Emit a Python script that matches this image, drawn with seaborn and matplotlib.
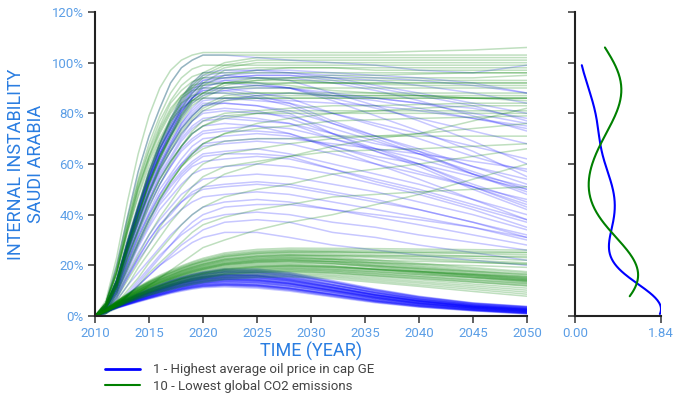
import numpy as np
import pandas as pd
import matplotlib
matplotlib.use("Agg")
import matplotlib.pyplot as plt
import seaborn as sns
from matplotlib.ticker import FuncFormatter, FormatStrFormatter
from matplotlib.lines import Line2D

# ---------------- data (values in percent) ----------------
YEARS = [2010, 2011, 2012, 2013, 2014, 2015, 2016, 2017, 2018, 2019,
         2020, 2022, 2025, 2028, 2032, 2036, 2040, 2045, 2050]

BLUE_HIGH = [
    [0, 5, 20, 39, 57, 71, 82, 92, 98, 101, 103, 103, 102, 101, 100, 99, 97, 96, 99],
    [0, 4, 14, 29, 43, 57, 68, 77, 85, 91, 95, 96, 97, 97, 96, 95, 94, 92, 88],
    [0, 4, 14, 29, 43, 55, 66, 75, 83, 89, 93, 95, 96, 96, 94, 91, 88, 84, 80],
    [0, 4, 14, 28, 42, 55, 66, 74, 82, 88, 92, 94, 95, 95, 93, 90, 87, 83, 77],
    [0, 4, 13, 28, 41, 54, 64, 73, 81, 86, 90, 93, 94, 94, 92, 89, 85, 79, 73],
    [0, 4, 14, 28, 42, 54, 65, 74, 81, 87, 91, 92, 91, 90, 86, 82, 78, 73, 68],
    [0, 4, 13, 28, 41, 54, 64, 73, 81, 86, 90, 90, 88, 86, 80, 75, 70, 63, 57],
    [0, 4, 13, 28, 41, 53, 64, 72, 80, 86, 89, 89, 87, 84, 77, 71, 66, 59, 52],
    [0, 4, 13, 26, 39, 51, 61, 69, 76, 82, 86, 86, 85, 84, 80, 76, 72, 67, 62],
    [0, 4, 13, 26, 39, 50, 60, 68, 76, 81, 85, 86, 86, 85, 84, 83, 81, 78, 75],
    [0, 4, 12, 26, 38, 49, 59, 67, 74, 79, 83, 84, 83, 81, 76, 71, 65, 56, 48],
    [0, 3, 12, 25, 37, 48, 58, 65, 72, 77, 81, 82, 81, 78, 72, 65, 59, 50, 42],
    [0, 3, 12, 24, 36, 46, 56, 63, 70, 75, 78, 79, 78, 76, 70, 65, 60, 52, 45],
    [0, 3, 11, 23, 34, 45, 54, 61, 67, 72, 75, 76, 75, 72, 66, 60, 54, 46, 38],
    [0, 3, 11, 22, 33, 43, 52, 59, 65, 69, 72, 73, 73, 72, 67, 62, 57, 51, 44],
    [0, 3, 10, 21, 32, 41, 50, 56, 62, 67, 70, 71, 72, 71, 67, 63, 60, 55, 50],
    [0, 3, 10, 21, 31, 40, 48, 54, 60, 64, 67, 68, 69, 68, 64, 60, 56, 51, 46],
    [0, 3, 10, 20, 29, 38, 46, 52, 57, 61, 64, 65, 66, 64, 60, 56, 52, 46, 40],
    [0, 3, 9, 19, 28, 36, 44, 49, 55, 59, 61, 62, 63, 62, 58, 54, 50, 44, 38],
    [0, 2, 9, 18, 27, 35, 42, 47, 52, 56, 58, 59, 60, 59, 56, 52, 48, 42, 35],
    [0, 2, 8, 17, 25, 32, 38, 43, 48, 51, 54, 55, 56, 55, 52, 49, 45, 40, 34],
    [0, 2, 8, 16, 23, 30, 36, 41, 45, 49, 51, 52, 53, 52, 49, 46, 42, 37, 31],
    [0, 2, 7, 15, 22, 28, 34, 38, 42, 45, 47, 48, 49, 48, 45, 42, 39, 35, 30],
    [0, 1, 4, 8, 13, 18, 23, 28, 33, 37, 40, 43, 44, 44, 42, 40, 38, 35, 31],
    [0, 1, 4, 8, 12, 16, 20, 23, 26, 29, 31, 33, 33, 31, 28, 26, 24, 22, 20],
    [0, 4, 12, 26, 38, 49, 59, 67, 74, 79, 83, 85, 87, 88, 87, 86, 84, 82, 78],
    [0, 4, 13, 27, 40, 52, 62, 71, 78, 84, 87, 89, 90, 90, 88, 86, 84, 80, 76],
    [0, 4, 14, 29, 43, 56, 67, 76, 84, 90, 94, 95, 94, 93, 88, 83, 77, 69, 60],
    [0, 4, 14, 28, 42, 55, 66, 74, 82, 88, 92, 93, 92, 90, 85, 79, 73, 65, 55],
    [0, 3, 12, 25, 37, 48, 57, 65, 71, 77, 80, 81, 80, 79, 74, 69, 64, 57, 50],
    [0, 3, 11, 24, 35, 46, 55, 62, 69, 74, 77, 78, 77, 76, 72, 68, 65, 59, 54],
    [0, 3, 10, 21, 31, 40, 48, 55, 60, 65, 68, 69, 70, 70, 68, 66, 64, 61, 58],
    [0, 3, 9, 19, 29, 38, 45, 51, 56, 60, 63, 64, 64, 63, 58, 53, 49, 43, 37],
    [0, 4, 12, 26, 38, 50, 60, 68, 75, 80, 84, 84, 83, 80, 72, 66, 60, 51, 43],
    [0, 4, 13, 27, 40, 53, 63, 71, 79, 85, 88, 88, 86, 83, 76, 70, 64, 56, 49],
    [0, 2, 7, 15, 23, 30, 36, 40, 45, 48, 50, 51, 52, 51, 48, 45, 42, 37, 32],
    [0, 4, 13, 28, 41, 53, 64, 72, 80, 86, 89, 90, 91, 90, 87, 85, 82, 78, 74],
    [0, 4, 14, 30, 44, 57, 68, 78, 86, 92, 96, 97, 97, 96, 95, 94, 93, 91, 88],
    [0, 4, 14, 29, 43, 55, 66, 75, 83, 89, 93, 94, 95, 95, 94, 93, 91, 88, 84],
    [0, 3, 11, 23, 34, 44, 52, 59, 66, 70, 73, 74, 75, 74, 70, 66, 62, 56, 51],
    [0, 1, 4, 8, 12, 16, 20, 24, 28, 31, 34, 37, 38, 37, 33, 31, 28, 25, 22],
    [0, 1, 4, 9, 14, 19, 24, 28, 32, 35, 38, 40, 41, 40, 37, 35, 32, 29, 26],
    [0, 2, 6, 12, 17, 22, 27, 32, 36, 40, 43, 45, 46, 45, 42, 39, 36, 32, 28],
]

BLUE_LOW = [
    [0, 2.5, 5.0, 7.0, 9.0, 10.8, 12.5, 14.1, 15.5, 16.6, 17.5, 18.7, 18.6, 17.2, 14.0, 10.6, 7.8, 5.2, 3.8],
    [0, 2.5, 4.9, 6.9, 8.8, 10.6, 12.3, 13.8, 15.2, 16.3, 17.2, 18.3, 18.2, 16.9, 13.7, 10.4, 7.6, 5.1, 3.7],
    [0, 2.4, 4.8, 6.7, 8.7, 10.4, 12.0, 13.6, 14.9, 16.0, 16.9, 18.0, 17.8, 16.5, 13.4, 10.1, 7.4, 4.9, 3.5],
    [0, 2.4, 4.7, 6.6, 8.5, 10.2, 11.8, 13.4, 14.7, 15.7, 16.6, 17.6, 17.5, 16.1, 13.1, 9.8, 7.2, 4.8, 3.4],
    [0, 2.3, 4.6, 6.5, 8.3, 10.0, 11.6, 13.1, 14.4, 15.4, 16.2, 17.3, 17.1, 15.7, 12.7, 9.5, 6.9, 4.6, 3.2],
    [0, 2.3, 4.5, 6.4, 8.2, 9.8, 11.4, 12.8, 14.1, 15.1, 15.9, 16.9, 16.7, 15.4, 12.4, 9.3, 6.7, 4.4, 3.0],
    [0, 2.2, 4.4, 6.2, 8.0, 9.6, 11.1, 12.5, 13.8, 14.8, 15.6, 16.5, 16.3, 15.0, 12.1, 9.0, 6.5, 4.2, 2.9],
    [0, 2.2, 4.3, 6.1, 7.8, 9.4, 10.9, 12.3, 13.5, 14.5, 15.3, 16.2, 16.0, 14.6, 11.8, 8.7, 6.3, 4.1, 2.8],
    [0, 2.1, 4.2, 5.9, 7.6, 9.2, 10.6, 12.0, 13.2, 14.2, 15.0, 15.8, 15.6, 14.2, 11.4, 8.4, 6.1, 3.9, 2.6],
    [0, 2.1, 4.1, 5.8, 7.5, 9.0, 10.4, 11.8, 13.0, 13.9, 14.7, 15.5, 15.2, 13.9, 11.1, 8.2, 5.9, 3.8, 2.5],
    [0, 2.0, 4.0, 5.7, 7.3, 8.8, 10.2, 11.5, 12.7, 13.6, 14.4, 15.1, 14.8, 13.5, 10.8, 7.9, 5.7, 3.6, 2.3],
    [0, 2.0, 3.9, 5.6, 7.1, 8.6, 10.0, 11.3, 12.4, 13.3, 14.1, 14.8, 14.4, 13.2, 10.5, 7.7, 5.5, 3.5, 2.2],
    [0, 1.9, 3.8, 5.4, 6.9, 8.3, 9.7, 11.0, 12.1, 13.0, 13.7, 14.4, 14.0, 12.8, 10.1, 7.4, 5.2, 3.3, 2.0],
    [0, 1.9, 3.7, 5.3, 6.8, 8.1, 9.5, 10.8, 11.8, 12.7, 13.4, 14.1, 13.7, 12.4, 9.8, 7.1, 5.0, 3.2, 1.9],
    [0, 1.8, 3.6, 5.1, 6.6, 7.9, 9.2, 10.5, 11.5, 12.4, 13.1, 13.7, 13.3, 12.0, 9.5, 6.8, 4.8, 3.0, 1.7],
    [0, 1.8, 3.5, 5.0, 6.4, 7.7, 9.0, 10.2, 11.2, 12.1, 12.8, 13.3, 12.9, 11.7, 9.2, 6.6, 4.6, 2.8, 1.6],
    [0, 1.7, 3.4, 4.8, 6.2, 7.5, 8.7, 9.9, 10.9, 11.8, 12.5, 12.9, 12.5, 11.3, 8.8, 6.3, 4.4, 2.6, 1.4],
    [0, 1.7, 3.3, 4.7, 6.1, 7.3, 8.5, 9.7, 10.7, 11.5, 12.2, 12.6, 12.2, 10.9, 8.5, 6.0, 4.2, 2.5, 1.3],
    [0, 1.6, 3.2, 4.6, 5.9, 7.1, 8.3, 9.4, 10.4, 11.2, 11.8, 12.2, 11.8, 10.5, 8.2, 5.7, 3.9, 2.3, 1.1],
    [0, 1.6, 3.1, 4.4, 5.7, 6.9, 8.0, 9.2, 10.1, 10.9, 11.5, 11.9, 11.4, 10.2, 7.8, 5.5, 3.7, 2.2, 1.0],
    [0, 1.5, 3.0, 4.3, 5.5, 6.7, 7.8, 8.9, 9.8, 10.6, 11.2, 11.5, 11.0, 9.8, 7.5, 5.2, 3.5, 2.0, 0.8],
    [0, 2.1, 4.2, 5.9, 7.6, 9.2, 10.6, 12.0, 13.2, 14.2, 15.0, 15.9, 15.9, 14.8, 12.2, 9.3, 6.8, 4.4, 2.9],
    [0, 2.0, 4.0, 5.7, 7.3, 8.8, 10.2, 11.5, 12.7, 13.6, 14.3, 14.9, 14.4, 12.9, 10.0, 7.1, 4.9, 3.0, 1.8],
    [0, 1.8, 3.6, 5.1, 6.6, 7.9, 9.2, 10.5, 11.5, 12.4, 13.1, 13.8, 13.5, 12.4, 10.0, 7.3, 5.2, 3.3, 2.0],
    [0, 2.2, 4.4, 6.2, 8.0, 9.6, 11.1, 12.5, 13.8, 14.8, 15.6, 16.4, 16.0, 14.5, 11.4, 8.3, 5.9, 3.7, 2.4],
    [0, 1.9, 3.8, 5.4, 6.9, 8.3, 9.7, 11.0, 12.1, 13.0, 13.8, 14.5, 14.2, 13.0, 10.4, 7.6, 5.4, 3.4, 2.1],
    [0, 1.7, 3.4, 4.8, 6.2, 7.5, 8.7, 9.9, 10.9, 11.7, 12.3, 12.7, 12.2, 10.9, 8.3, 5.8, 3.9, 2.3, 1.1],
    [0, 2.4, 4.7, 6.6, 8.5, 10.2, 11.8, 13.4, 14.7, 15.7, 16.5, 17.4, 17.1, 15.6, 12.4, 9.1, 6.5, 4.2, 2.8],
    [0, 2.1, 4.1, 5.8, 7.5, 9.0, 10.4, 11.8, 13.0, 13.9, 14.7, 15.4, 15.1, 13.8, 11.0, 8.1, 5.8, 3.7, 2.4],
    [0, 1.6, 3.2, 4.6, 5.9, 7.1, 8.3, 9.4, 10.4, 11.2, 11.8, 12.3, 12.0, 10.9, 8.6, 6.1, 4.2, 2.6, 1.4],
    [0, 2.4, 4.9, 6.9, 8.8, 10.6, 12.2, 13.8, 15.1, 16.2, 17.1, 18.1, 17.9, 16.5, 13.3, 9.9, 7.1, 4.6, 3.3],
    [0, 2.3, 4.6, 6.5, 8.3, 10.0, 11.6, 13.1, 14.4, 15.4, 16.3, 17.4, 17.3, 16.1, 13.3, 10.2, 7.5, 5.0, 3.6],
    [0, 2.2, 4.4, 6.2, 8.0, 9.6, 11.1, 12.6, 13.8, 14.8, 15.6, 16.6, 16.4, 15.1, 12.2, 9.1, 6.6, 4.3, 3.0],
    [0, 2.1, 4.2, 6.0, 7.7, 9.2, 10.7, 12.1, 13.3, 14.3, 15.1, 15.9, 15.6, 14.2, 11.3, 8.3, 5.9, 3.8, 2.5],
    [0, 2.0, 4.0, 5.7, 7.3, 8.8, 10.2, 11.6, 12.7, 13.7, 14.4, 15.2, 14.9, 13.6, 10.9, 8.0, 5.8, 3.7, 2.4],
    [0, 2.0, 3.9, 5.5, 7.1, 8.5, 9.9, 11.2, 12.3, 13.2, 14.0, 14.7, 14.3, 13.0, 10.3, 7.5, 5.3, 3.3, 2.0],
    [0, 1.9, 3.8, 5.4, 6.9, 8.3, 9.7, 11.0, 12.1, 13.0, 13.7, 14.3, 13.9, 12.6, 9.9, 7.1, 4.9, 3.0, 1.7],
    [0, 1.9, 3.7, 5.3, 6.8, 8.2, 9.5, 10.8, 11.9, 12.8, 13.5, 14.2, 13.9, 12.7, 10.1, 7.3, 5.1, 3.2, 1.9],
    [0, 1.8, 3.6, 5.1, 6.6, 7.9, 9.2, 10.5, 11.5, 12.4, 13.1, 13.6, 13.2, 11.9, 9.3, 6.6, 4.6, 2.8, 1.5],
    [0, 1.8, 3.5, 5.0, 6.4, 7.7, 9.0, 10.2, 11.3, 12.1, 12.8, 13.4, 13.0, 11.8, 9.4, 6.8, 4.8, 3.0, 1.7],
    [0, 1.7, 3.4, 4.8, 6.2, 7.5, 8.7, 9.9, 10.9, 11.8, 12.4, 12.9, 12.4, 11.1, 8.6, 6.1, 4.2, 2.5, 1.2],
    [0, 1.7, 3.3, 4.7, 6.0, 7.2, 8.4, 9.6, 10.6, 11.4, 12.0, 12.4, 12.0, 10.8, 8.4, 5.9, 4.1, 2.4, 1.2],
    [0, 1.6, 3.2, 4.5, 5.8, 7.0, 8.2, 9.3, 10.3, 11.1, 11.7, 12.1, 11.6, 10.3, 7.9, 5.5, 3.7, 2.1, 0.9],
    [0, 2.1, 4.1, 5.8, 7.4, 8.9, 10.3, 11.7, 12.9, 13.8, 14.6, 15.4, 15.2, 14.0, 11.3, 8.4, 6.1, 3.9, 2.6],
    [0, 2.2, 4.3, 6.1, 7.8, 9.4, 10.9, 12.3, 13.5, 14.5, 15.3, 16.1, 15.8, 14.4, 11.5, 8.4, 6.0, 3.8, 2.5],
]

GREEN_HIGH = [
    [0, 6, 23, 45, 64, 79, 90, 97, 101, 103, 104, 104, 104, 104, 104, 104, 104.5, 105, 106],
    [0, 5, 20, 39, 57, 71, 82, 92, 98, 101, 103, 103, 103, 103, 103, 103, 103, 103, 103],
    [0, 4, 14, 30, 44, 57, 68, 78, 86, 92, 96, 100, 102, 102, 102, 102, 102, 102, 102],
    [0, 4, 14, 29, 43, 57, 68, 77, 85, 91, 95, 99, 101, 101, 101, 101, 101, 101, 101],
    [0, 4, 14, 29, 43, 56, 67, 76, 84, 90, 94, 98, 100, 100, 100, 100, 100, 100, 100],
    [0, 5, 19, 38, 54, 68, 79, 88, 94, 97.5, 99, 99, 99, 99, 99, 99, 99, 99, 99],
    [0, 4, 14, 28, 42, 55, 66, 74, 82, 88, 92, 97, 98, 98, 98, 98, 98, 98, 98],
    [0, 3, 12, 26, 39, 52, 63, 72, 80, 86, 91, 95, 97, 98, 98, 97, 97, 97, 97],
    [0, 5, 18, 36, 53, 66, 77, 85, 91, 94.5, 96, 96, 96, 96, 96, 96, 96, 96, 96],
    [0, 4, 13, 27, 40, 53, 63, 71, 79, 85, 88, 92, 94, 94, 94, 94, 94, 94, 95],
    [0, 4, 13, 27, 40, 52, 62, 71, 78, 84, 87, 91, 93, 93, 93, 93, 93, 93, 93],
    [0, 5, 17, 35, 51, 63, 74, 82, 87, 91, 92, 92, 92, 92, 92, 92, 92, 92, 92],
    [0, 5, 17, 34, 50, 62, 72, 80, 86, 89, 90, 90, 90, 90, 90, 90, 90, 90, 90],
    [0, 4, 12, 26, 38, 49, 59, 67, 74, 79, 83, 87, 88, 88, 88, 88, 88, 88, 88],
    [0, 4, 17, 33, 48, 61, 70, 78, 84, 87, 88, 88, 88, 88, 87, 87, 87, 87, 87],
    [0, 3, 12, 25, 37, 49, 58, 66, 73, 78, 82, 86, 87, 87, 87, 87, 87, 86, 86],
    [0, 4, 16, 33, 47, 59, 69, 77, 82, 85, 86, 86, 86, 86, 86, 86, 86, 86, 86],
    [0, 3, 12, 25, 37, 48, 58, 65, 72, 77, 81, 85, 86, 86, 86, 86, 86, 86, 86],
    [0, 3, 11, 22, 33, 43, 52, 60, 67, 73, 77, 80, 81, 82, 83, 83, 83.5, 84, 84],
    [0, 3, 11, 23, 34, 45, 54, 61, 67, 72, 75, 78, 80, 80, 80, 80, 80, 80, 80],
    [0, 2, 9, 18, 28, 37, 46, 53, 59, 64, 68, 72, 76, 78, 80, 81, 82, 83, 83],
    [0, 2, 9, 19, 29, 38, 46, 53, 59, 64, 68, 72, 74, 75, 77, 77.5, 78, 78.5, 79],
    [0, 2, 8, 16, 24, 32, 39, 45, 51, 56, 60, 64, 66, 68, 70, 71, 72, 74, 76],
    [0, 2, 7, 14, 21, 28, 35, 41, 46, 51, 55, 59, 61, 63, 65, 65.5, 66, 67, 68],
    [0, 2, 6, 12, 19, 25, 31, 37, 42, 47, 51, 56, 60, 63, 67, 70, 72, 77, 82],
    [0, 1, 5, 10, 15, 21, 26, 31, 36, 40, 43, 47, 50, 52, 56, 58, 60, 63, 66],
    [0, 5, 17, 34, 50, 63, 73, 81, 87, 90, 91, 92, 92, 91, 89, 88, 87, 86, 85],
    [0, 5, 18, 36, 52, 65, 75, 84, 89, 92.5, 94, 94, 94, 93, 92, 91.5, 91, 91, 91],
    [0, 4, 13, 27, 40, 53, 63, 71, 79, 85, 88, 92, 93, 94, 95, 95, 95.5, 96, 96],
    [0, 3, 11, 23, 34, 45, 54, 61, 67, 72, 75, 79, 80, 81, 81, 81, 81, 81, 81],
    [0, 4, 13, 27, 40, 52, 62, 70, 77, 83, 86, 90, 91, 92, 92, 92, 92, 92, 92],
    [0, 3, 10, 20, 30, 39, 47, 53, 59, 63, 66, 69, 70, 70, 71, 71, 71, 71, 71],
    [0, 1, 4, 8, 12, 17, 21, 25, 29, 33, 36, 39, 42, 44, 47, 48, 49, 50, 51],
    [0, 1, 3, 6, 9, 12, 15, 18, 21, 24, 27, 30, 34, 37, 40, 44, 48, 54, 60],
]

GREEN_LOW = [
    [0, 2.7, 5.9, 8.8, 11.5, 13.9, 16.1, 18.0, 19.8, 21.4, 22.8, 24.9, 26.3, 26.8, 26.7, 26.6, 26.4, 26.2, 26.0],
    [0, 2.6, 5.8, 8.6, 11.3, 13.6, 15.7, 17.6, 19.4, 21.0, 22.3, 24.4, 25.7, 26.2, 26.1, 25.9, 25.7, 25.5, 25.2],
    [0, 2.6, 5.7, 8.5, 11.1, 13.4, 15.5, 17.3, 19.1, 20.6, 21.9, 24.0, 25.3, 25.8, 25.6, 25.3, 25.0, 24.6, 24.2],
    [0, 2.6, 5.6, 8.4, 11.0, 13.3, 15.3, 17.1, 18.9, 20.4, 21.7, 23.7, 25.0, 25.5, 25.3, 24.8, 24.3, 23.6, 23.0],
    [0, 2.5, 5.5, 8.3, 10.8, 13.0, 15.0, 16.8, 18.5, 20.0, 21.3, 23.3, 24.5, 25.0, 24.7, 24.1, 23.5, 22.8, 22.0],
    [0, 2.5, 5.4, 8.1, 10.5, 12.7, 14.7, 16.4, 18.1, 19.6, 20.8, 22.8, 24.0, 24.5, 24.2, 23.5, 22.8, 21.9, 21.0],
    [0, 2.4, 5.3, 8.0, 10.4, 12.6, 14.5, 16.2, 17.9, 19.4, 20.6, 22.5, 23.7, 24.2, 23.8, 23.0, 22.3, 21.3, 20.3],
    [0, 2.4, 5.3, 7.9, 10.3, 12.5, 14.4, 16.1, 17.8, 19.2, 20.4, 22.3, 23.5, 24.0, 23.4, 22.1, 20.8, 19.1, 17.5],
    [0, 2.4, 5.2, 7.8, 10.1, 12.2, 14.1, 15.7, 17.4, 18.8, 20.0, 21.9, 23.0, 23.5, 22.9, 21.6, 20.3, 18.6, 17.0],
    [0, 2.3, 5.1, 7.7, 10.0, 12.1, 13.9, 15.5, 17.2, 18.6, 19.7, 21.6, 22.7, 23.2, 22.5, 21.1, 19.8, 18.0, 16.3],
    [0, 2.3, 5.1, 7.6, 9.9, 12.0, 13.8, 15.4, 17.0, 18.4, 19.6, 21.4, 22.5, 23.0, 22.3, 20.8, 19.4, 17.6, 15.8],
    [0, 2.3, 5.0, 7.4, 9.7, 11.7, 13.5, 15.1, 16.7, 18.0, 19.1, 20.9, 22.1, 22.5, 21.8, 20.4, 19.0, 17.2, 15.4],
    [0, 2.2, 4.9, 7.3, 9.5, 11.5, 13.3, 14.9, 16.4, 17.8, 18.9, 20.6, 21.8, 22.2, 21.5, 20.0, 18.6, 16.8, 15.0],
    [0, 2.2, 4.8, 7.3, 9.5, 11.4, 13.2, 14.7, 16.3, 17.6, 18.7, 20.5, 21.6, 22.0, 21.3, 19.8, 18.3, 16.5, 14.6],
    [0, 2.2, 4.8, 7.1, 9.3, 11.2, 13.0, 14.5, 16.0, 17.3, 18.4, 20.1, 21.2, 21.6, 20.9, 19.4, 17.9, 16.1, 14.2],
    [0, 2.1, 4.7, 7.1, 9.2, 11.1, 12.8, 14.3, 15.8, 17.1, 18.2, 19.9, 21.0, 21.4, 20.6, 19.1, 17.6, 15.7, 13.8],
    [0, 2.1, 4.5, 6.8, 8.9, 10.7, 12.4, 13.8, 15.2, 16.5, 17.5, 19.2, 20.2, 20.6, 19.9, 18.4, 17.0, 15.2, 13.4],
    [0, 2.0, 4.4, 6.7, 8.7, 10.5, 12.1, 13.5, 14.9, 16.2, 17.2, 18.8, 19.8, 20.2, 19.6, 18.5, 17.4, 16.0, 14.6],
    [0, 2.0, 4.4, 6.5, 8.5, 10.3, 11.9, 13.3, 14.7, 15.8, 16.8, 18.4, 19.4, 19.8, 19.2, 18.1, 17.0, 15.6, 14.2],
    [0, 1.9, 4.3, 6.4, 8.3, 10.1, 11.6, 13.0, 14.4, 15.5, 16.5, 18.0, 19.0, 19.4, 18.8, 17.7, 16.5, 15.1, 13.6],
    [0, 1.9, 4.2, 6.3, 8.2, 9.9, 11.4, 12.7, 14.1, 15.2, 16.2, 17.7, 18.6, 19.0, 18.4, 17.2, 16.0, 14.5, 13.0],
    [0, 1.9, 4.1, 6.1, 8.0, 9.6, 11.1, 12.4, 13.7, 14.8, 15.7, 17.2, 18.1, 18.5, 17.9, 16.7, 15.5, 13.9, 12.4],
    [0, 1.8, 4.0, 5.9, 7.7, 9.4, 10.8, 12.1, 13.3, 14.4, 15.3, 16.7, 17.6, 18.0, 17.4, 16.1, 14.9, 13.4, 11.8],
    [0, 1.8, 3.9, 5.8, 7.5, 9.1, 10.5, 11.7, 13.0, 14.0, 14.9, 16.3, 17.2, 17.5, 16.9, 15.6, 14.3, 12.6, 11.0],
    [0, 1.7, 3.7, 5.6, 7.3, 8.8, 10.2, 11.4, 12.6, 13.6, 14.5, 15.8, 16.7, 17.0, 16.3, 15.0, 13.6, 11.9, 10.2],
    [0, 1.7, 3.6, 5.4, 7.1, 8.6, 9.9, 11.1, 12.2, 13.2, 14.0, 15.3, 16.2, 16.5, 15.8, 14.4, 13.0, 11.2, 9.4],
    [0, 1.6, 3.5, 5.3, 6.9, 8.3, 9.6, 10.7, 11.8, 12.8, 13.6, 14.9, 15.7, 16.0, 15.3, 13.8, 12.3, 10.5, 8.6],
    [0, 1.6, 3.4, 5.1, 6.7, 8.1, 9.3, 10.4, 11.5, 12.4, 13.2, 14.4, 15.2, 15.5, 14.7, 13.2, 11.7, 9.7, 7.8],
    [0, 2.5, 5.5, 8.3, 10.8, 13.1, 15.1, 16.9, 18.6, 20.2, 21.4, 23.4, 24.7, 25.2, 25.2, 25.1, 25.1, 25.0, 25.0],
    [0, 2.4, 5.2, 7.9, 10.2, 12.4, 14.3, 15.9, 17.6, 19.0, 20.2, 22.1, 23.3, 23.8, 23.8, 23.7, 23.7, 23.6, 23.5],
    [0, 2.2, 4.8, 7.2, 9.4, 11.3, 13.1, 14.6, 16.1, 17.4, 18.5, 20.3, 21.4, 21.8, 21.5, 21.0, 20.5, 19.9, 19.2],
    [0, 2.3, 5.0, 7.5, 9.7, 11.8, 13.6, 15.1, 16.7, 18.1, 19.2, 21.0, 22.1, 22.6, 22.4, 22.0, 21.6, 21.1, 20.6],
    [0, 2.0, 4.3, 6.5, 8.4, 10.2, 11.8, 13.1, 14.5, 15.7, 16.7, 18.2, 19.2, 19.6, 19.2, 18.4, 17.6, 16.5, 15.5],
    [0, 1.9, 4.1, 6.2, 8.1, 9.8, 11.3, 12.6, 13.9, 15.0, 16.0, 17.5, 18.4, 18.8, 18.3, 17.4, 16.4, 15.2, 14.0],
    [0, 1.8, 4.0, 6.0, 7.8, 9.5, 10.9, 12.2, 13.5, 14.6, 15.5, 16.9, 17.8, 18.2, 17.7, 16.6, 15.5, 14.2, 12.8],
    [0, 1.8, 3.9, 5.8, 7.6, 9.2, 10.6, 11.8, 13.0, 14.1, 15.0, 16.4, 17.2, 17.6, 17.0, 15.9, 14.8, 13.4, 12.0],
    [0, 2.1, 4.6, 6.9, 9.0, 10.9, 12.6, 14.1, 15.5, 16.8, 17.9, 19.5, 20.6, 21.0, 20.6, 19.7, 18.8, 17.6, 16.5],
    [0, 2.0, 4.4, 6.6, 8.6, 10.4, 12.0, 13.4, 14.8, 16.0, 17.0, 18.6, 19.6, 20.0, 19.5, 18.5, 17.5, 16.3, 15.0],
]

LEGEND_LABELS = ["1 - Highest average oil price in cap GE", "10 - Lowest global CO2 emissions"]
X_TICKS = [2010, 2015, 2020, 2025, 2030, 2035, 2040, 2045, 2050]
Y_TICKS = [0, 20, 40, 60, 80, 100, 120]

BLUE = "#0000ff"
GREEN = "#008000"
TICK_COLOR = "#5b9ee6"
LABEL_COLOR = "#2a7de1"


def to_long(rows):
    recs = []
    for i, r in enumerate(rows):
        for yr, v in zip(YEARS, r):
            recs.append((i, yr, v / 100.0))
    return pd.DataFrame(recs, columns=["run", "year", "value"])


sns.set_style("ticks")
plt.rcParams["font.family"] = ["Roboto", "DejaVu Sans"]

fig = plt.figure(figsize=(6.74, 3.95), dpi=100)
ax = fig.add_axes([95 / 674, 79 / 395, 432 / 674, 304 / 395])
axk = fig.add_axes([575 / 674, 79 / 395, 86 / 674, 304 / 395])

groups = [
    (BLUE_HIGH, BLUE, 0.22),
    (BLUE_LOW, BLUE, 0.22),
    (GREEN_HIGH, GREEN, 0.25),
    (GREEN_LOW, GREEN, 0.25),
]
for rows, col, a in groups:
    sns.lineplot(data=to_long(rows), x="year", y="value", units="run",
                 estimator=None, color=col, alpha=a, lw=1.1, ax=ax,
                 legend=False)

ax.set_xlim(2010, 2050)
ax.set_ylim(0, 1.2)
ax.set_xticks(X_TICKS)
ax.set_yticks([v / 100 for v in Y_TICKS])
ax.yaxis.set_major_formatter(FuncFormatter(lambda v, p: f"{int(round(v * 100))}%"))
ax.set_xlabel("TIME (YEAR)", color=LABEL_COLOR, fontsize=13, labelpad=1.5)
ax.set_ylabel("INTERNAL INSTABILITY\nSAUDI ARABIA", color=LABEL_COLOR,
              fontsize=13, labelpad=5, linespacing=1.1)

# density of the 2050 values
blue_end = [r[-1] / 100 for r in BLUE_HIGH + BLUE_LOW]
green_end = [r[-1] / 100 for r in GREEN_HIGH + GREEN_LOW]
sns.kdeplot(y=blue_end, ax=axk, color=BLUE, cut=0, lw=1.5, bw_adjust=0.95)
sns.kdeplot(y=green_end, ax=axk, color=GREEN, cut=0, lw=1.5, bw_adjust=0.95)
axk.set_ylim(0, 1.2)
axk.set_yticks([v / 100 for v in Y_TICKS])
axk.set_yticklabels([])
axk.set_ylabel("")
axk.set_xlabel("")
dmax = max(l.get_xdata().max() for l in axk.get_lines())
axk.set_xlim(0, dmax)
axk.set_xticks([0, dmax])
axk.xaxis.set_major_formatter(FormatStrFormatter("%.2f"))

for a_ in (ax, axk):
    sns.despine(ax=a_)
    for s in ("left", "bottom"):
        a_.spines[s].set_color("#222222")
        a_.spines[s].set_linewidth(1.5)
    a_.tick_params(axis="both", direction="out", length=5, width=1.2,
                   color="#444444", labelcolor=TICK_COLOR, labelsize=9.5, pad=3)

handles = [Line2D([], [], color=BLUE, lw=2), Line2D([], [], color=GREEN, lw=1.5)]
fig.legend(handles, LEGEND_LABELS, loc="upper left",
           bbox_to_anchor=(100 / 674, 1 - 358 / 395), frameon=False,
           fontsize=9.5, handlelength=2.6, labelspacing=0.28,
           labelcolor="#444444", borderaxespad=0, handletextpad=1.0)

fig.savefig("out.png", dpi=100)
